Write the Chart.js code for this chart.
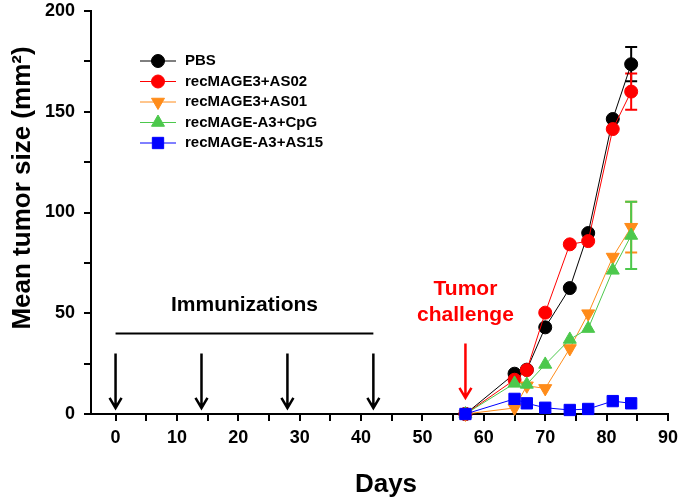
<!DOCTYPE html>
<html>
<head>
<meta charset="utf-8">
<script src="https://cdn.jsdelivr.net/npm/chart.js@4/dist/chart.umd.min.js"></script>
<style>
  html, body { margin: 0; padding: 0; background: #fff; }
</style>
</head>
<body>
<canvas id="chart" width="680" height="500"></canvas>
<script>
const days = [57, 65, 67, 70, 74, 77, 81, 84];
const pbs   = [0, 20, 22, 43, 62.5, 89.8, 146.4, 173.6];
const as02  = [0, 17, 21.8, 50.3, 84.2, 85.8, 141.4, 160];
const as01  = [0, 3, 14, 12.7, 32.5, 49.8, 77.9, 92.7];
const cpg   = [0, 15.2, 14.7, 24.6, 37, 42.4, 71.3, 88.6];
const as15  = [0, 7.5, 5.3, 3.1, 2, 2.5, 6.4, 5.3];

// error bars (only the last reading has them)
const errPbs  = [0, 0, 0, 0, 0, 0, 0, 8.5];
const errAs02 = [0, 0, 0, 0, 0, 0, 0, 9];
const errAs01 = [0, 0, 0, 0, 0, 0, 0, 12.6];
const errCpg  = [0, 0, 0, 0, 0, 0, 0, 16.7];
const errAs15 = [0, 0, 0, 0, 0, 0, 0, 0];

const seriesNames = ['PBS', 'recMAGE3+AS02', 'recMAGE3+AS01', 'recMAGE-A3+CpG', 'recMAGE-A3+AS15'];

const immunizationDays = [0, 14, 28, 42];
const challengeDay = 57;

const xTicks  = [0, 5, 10, 15, 20, 25, 30, 35, 40, 45, 50, 55, 60, 65, 70, 75, 80, 85, 90];
const xLabels = [0, 10, 20, 30, 40, 50, 60, 70, 80, 90];
const yTicks  = [0, 25, 50, 75, 100, 125, 150, 175, 200];
const yLabels = [0, 50, 100, 150, 200];

const FONT = '"Liberation Sans", Arial, sans-serif';

function pts(values) {
    return days.map((d, i) => ({ x: d, y: values[i] }));
}

function series(i, values, errors, color, style, radius, rotation, order) {
    return {
        label: seriesNames[i],
        data: pts(values),
        errors: errors,
        borderColor: color,
        backgroundColor: color,
        borderWidth: 1,
        pointStyle: style,
        pointRadius: radius,
        pointRotation: rotation,
        pointBackgroundColor: color,
        pointBorderColor: color,
        pointBorderWidth: 1,
        tension: 0,
        order: order,
        clip: false
    };
}

const datasets = [
    series(0, pbs,  errPbs,  '#000000', 'circle',   6.5, 0,   5),
    series(1, as02, errAs02, '#ff0000', 'circle',   6.5, 0,   4),
    series(2, as01, errAs01, '#ff8c1a', 'triangle', 7.5, 180, 3),
    series(3, cpg,  errCpg,  '#4cc84c', 'triangle', 7.5, 0,   2),
    series(4, as15, errAs15, '#0000ff', 'rect',     8,   0,   1)
];

// error bars under the markers
const errorBars = {
    id: 'errorBars',
    beforeDatasetsDraw(chart) {
        const ctx = chart.ctx;
        const x = chart.scales.x, y = chart.scales.y;
        chart.data.datasets.forEach(ds => {
            ds.errors.forEach((e, i) => {
                if (!e) return;
                const px = x.getPixelForValue(ds.data[i].x);
                const top = y.getPixelForValue(ds.data[i].y + e);
                const bot = y.getPixelForValue(ds.data[i].y - e);
                ctx.save();
                ctx.strokeStyle = ds.borderColor;
                ctx.lineWidth = 2;
                ctx.beginPath();
                ctx.moveTo(px, top); ctx.lineTo(px, bot);
                ctx.moveTo(px - 6, top); ctx.lineTo(px + 6, top);
                ctx.moveTo(px - 6, bot); ctx.lineTo(px + 6, bot);
                ctx.stroke();
                ctx.restore();
            });
        });
    }
};

function arrow(ctx, px, y1, y2, color) {
    ctx.save();
    ctx.strokeStyle = color;
    ctx.lineWidth = 2.5;
    ctx.beginPath();
    ctx.moveTo(px, y1); ctx.lineTo(px, y2);
    ctx.moveTo(px - 6, y2 - 10); ctx.lineTo(px, y2); ctx.lineTo(px + 6, y2 - 10);
    ctx.stroke();
    ctx.restore();
}

// arrows, labels, axis titles and the legend
const annotations = {
    id: 'annotations',
    afterDraw(chart) {
        const ctx = chart.ctx;
        const x = chart.scales.x, y = chart.scales.y;

        immunizationDays.forEach(d => {
            arrow(ctx, x.getPixelForValue(d), y.getPixelForValue(30), y.getPixelForValue(3), '#000');
        });
        ctx.save();
        ctx.strokeStyle = '#000';
        ctx.lineWidth = 2;
        ctx.beginPath();
        ctx.moveTo(x.getPixelForValue(immunizationDays[0]), y.getPixelForValue(40));
        ctx.lineTo(x.getPixelForValue(immunizationDays[immunizationDays.length - 1]), y.getPixelForValue(40));
        ctx.stroke();
        ctx.fillStyle = '#000';
        ctx.font = 'bold 21px ' + FONT;
        ctx.textAlign = 'center';
        ctx.textBaseline = 'middle';
        ctx.fillText('Immunizations', x.getPixelForValue(21), y.getPixelForValue(54));
        ctx.restore();

        const cx = x.getPixelForValue(challengeDay);
        arrow(ctx, cx, y.getPixelForValue(35), y.getPixelForValue(8), '#ff0000');
        ctx.save();
        ctx.fillStyle = '#ff0000';
        ctx.font = 'bold 21px ' + FONT;
        ctx.textAlign = 'center';
        ctx.textBaseline = 'middle';
        ctx.fillText('Tumor', cx, y.getPixelForValue(62));
        ctx.fillText('challenge', cx, y.getPixelForValue(49));
        ctx.restore();

        // axis titles
        ctx.save();
        ctx.fillStyle = '#000';
        ctx.font = 'bold 26px ' + FONT;
        ctx.textAlign = 'center';
        ctx.textBaseline = 'middle';
        ctx.fillText('Days', 386, 485);
        ctx.translate(23, 188);
        ctx.rotate(-Math.PI / 2);
        ctx.fillText('Mean tumor size (mm²)', 0, 0);
        ctx.restore();

        // legend
        ctx.save();
        chart.data.datasets.forEach((ds, i) => {
            const ly = 61 + i * 20.5;
            ctx.strokeStyle = ds.borderColor;
            ctx.lineWidth = 1;
            ctx.beginPath();
            ctx.moveTo(140, ly); ctx.lineTo(176, ly);
            ctx.stroke();
            ctx.fillStyle = ds.backgroundColor;
            Chart.helpers.drawPoint(ctx, {
                pointStyle: ds.pointStyle,
                radius: ds.pointRadius,
                rotation: ds.pointRotation,
                borderWidth: 1
            }, 158, ly);
            ctx.fillStyle = '#000';
            ctx.font = 'bold 15px ' + FONT;
            ctx.textAlign = 'left';
            ctx.textBaseline = 'middle';
            ctx.fillText(ds.label, 185, ly);
        });
        ctx.restore();
    }
};

new Chart(document.getElementById('chart'), {
    type: 'line',
    data: { datasets: datasets },
    plugins: [errorBars, annotations],
    options: {
        responsive: false,
        devicePixelRatio: 1,
        animation: false,
        layout: { padding: { top: 11, right: 12, left: 0, bottom: 0 } },
        plugins: { legend: { display: false }, tooltip: { enabled: false } },
        scales: {
            x: {
                type: 'linear',
                min: -4,
                max: 90,
                afterBuildTicks: s => { s.ticks = xTicks.map(v => ({ value: v })); },
                afterFit: s => { s.height = 86; s.paddingLeft = 0; s.paddingRight = 0; },
                ticks: {
                    autoSkip: false,
                    maxRotation: 0,
                    padding: 6,
                    color: '#000',
                    font: { family: FONT, size: 18, weight: 'bold' },
                    callback: v => xLabels.includes(v) ? String(v) : ''
                },
                grid: { drawOnChartArea: false, tickLength: 7, color: '#000', lineWidth: 2 },
                border: { color: '#000', width: 2 }
            },
            y: {
                min: 0,
                max: 200,
                afterBuildTicks: s => { s.ticks = yTicks.map(v => ({ value: v })); },
                afterFit: s => { s.width = 91; s.paddingTop = 0; s.paddingBottom = 0; },
                ticks: {
                    autoSkip: false,
                    padding: 9,
                    color: '#000',
                    font: { family: FONT, size: 18, weight: 'bold' },
                    callback: v => yLabels.includes(v) ? String(v) : ''
                },
                grid: { drawOnChartArea: false, tickLength: 7, color: '#000', lineWidth: 2 },
                border: { color: '#000', width: 2 }
            }
        }
    }
});
</script>
</body>
</html>
